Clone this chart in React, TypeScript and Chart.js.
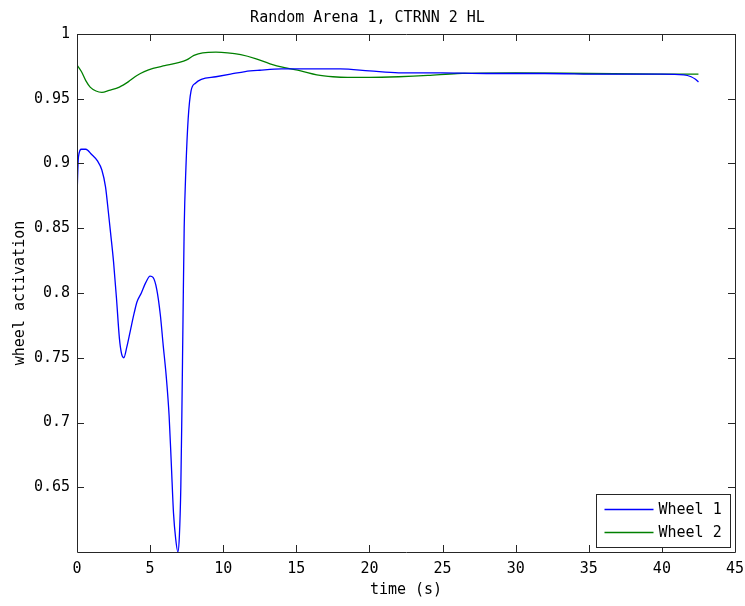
import React, { useEffect, useRef } from "react";
import { Chart, registerables } from "chart.js";

Chart.register(...registerables);

const TITLE = "Random Arena 1, CTRNN 2 HL";
const X_LABEL = "time (s)";
const Y_LABEL = "wheel activation";
const SERIES_NAMES = ["Wheel 1", "Wheel 2"];
const SERIES_COLORS = ["#0000ff", "#008000"];

const X_TICKS = [0, 5, 10, 15, 20, 25, 30, 35, 40, 45];
const Y_TICKS = [0.65, 0.7, 0.75, 0.8, 0.85, 0.9, 0.95, 1];

const WHEEL1_T = [
  0, 0.1, 0.3, 0.6, 1.0, 1.4, 1.7, 1.95, 2.15, 2.3, 2.5, 2.7, 2.9, 3.05, 3.2,
  3.4, 3.65, 3.9, 4.1, 4.4, 4.7, 5.0, 5.2, 5.45, 5.7, 5.9, 6.1, 6.3, 6.45, 6.6,
  6.75, 6.9, 7.0, 7.1, 7.17, 7.25, 7.33, 7.45, 7.6, 7.8, 8.1, 8.5, 9.5, 10.5,
  11.5, 12.5, 14, 16, 18, 20, 22, 25, 28, 32, 36, 40, 41.5, 42, 42.3, 42.5,
];
const WHEEL1_V = [
  0.875, 0.905, 0.911, 0.911, 0.907, 0.902, 0.895, 0.882, 0.862, 0.846, 0.824,
  0.796, 0.765, 0.753, 0.75, 0.758, 0.771, 0.784, 0.793, 0.8, 0.808, 0.813,
  0.812, 0.803, 0.783, 0.759, 0.736, 0.705, 0.668, 0.63, 0.61, 0.6, 0.612,
  0.65, 0.705, 0.78, 0.85, 0.897, 0.934, 0.956, 0.962, 0.965, 0.967, 0.969,
  0.971, 0.972, 0.973, 0.973, 0.973, 0.9715, 0.97, 0.97, 0.9695, 0.9695,
  0.969, 0.969, 0.9685, 0.967, 0.965, 0.963,
];

const WHEEL2_T = [
  0, 0.3, 0.6, 0.9, 1.3, 1.7, 2.2, 2.9, 3.5, 4.1, 4.6, 5.2, 6.0, 7.0, 7.5, 8.0,
  8.6, 9.5, 10.3, 11.2, 12.2, 13.2, 14.2, 15.3, 16.4, 17.5, 18.5, 20, 22, 24,
  26, 30, 35, 40, 42.5,
];
const WHEEL2_V = [
  0.976, 0.971, 0.964, 0.959, 0.956, 0.955, 0.9565, 0.959, 0.963, 0.968, 0.971,
  0.9735, 0.9755, 0.978, 0.98, 0.9835, 0.9855, 0.986, 0.9855, 0.984, 0.981,
  0.977, 0.974, 0.9715, 0.9685, 0.967, 0.9665, 0.9665, 0.967, 0.968, 0.9695,
  0.97, 0.9695, 0.969, 0.969,
];

const FONT = "'DejaVu Sans Mono', 'Liberation Mono', monospace";
const AXIS_COLOR = "#262626";

const framePlugin = {
  id: "matlabFrame",
  afterDraw(chart: any) {
    const { ctx, chartArea } = chart;
    const { left, right, top, bottom } = chartArea;
    const xs = chart.scales.x;
    const ys = chart.scales.y;
    ctx.save();
    ctx.strokeStyle = AXIS_COLOR;
    ctx.lineWidth = 1;
    ctx.beginPath();
    ctx.rect(Math.round(left) + 0.5, Math.round(top) + 0.5, Math.round(right - left), Math.round(bottom - top));
    ctx.stroke();
    // inward ticks
    ctx.beginPath();
    X_TICKS.forEach((v) => {
      const px = Math.round(xs.getPixelForValue(v)) + 0.5;
      ctx.moveTo(px, bottom);
      ctx.lineTo(px, bottom - 7);
      ctx.moveTo(px, top);
      ctx.lineTo(px, top + 7);
    });
    Y_TICKS.forEach((v) => {
      const py = Math.round(ys.getPixelForValue(v)) + 0.5;
      ctx.moveTo(left, py);
      ctx.lineTo(left + 7, py);
      ctx.moveTo(right, py);
      ctx.lineTo(right - 7, py);
    });
    ctx.stroke();

    // legend
    const bx2 = Math.round(right) - 5 + 0.5;
    const by2 = Math.round(bottom) - 5 + 0.5;
    const bw = 134;
    const bh = 53;
    const bx1 = bx2 - bw;
    const by1 = by2 - bh;
    ctx.fillStyle = "#ffffff";
    ctx.fillRect(bx1, by1, bw, bh);
    ctx.strokeStyle = AXIS_COLOR;
    ctx.strokeRect(bx1, by1, bw, bh);
    ctx.font = `15px ${FONT}`;
    ctx.textBaseline = "middle";
    ctx.textAlign = "left";
    SERIES_NAMES.forEach((name, i) => {
      const y = Math.round(by1 + 14 + i * 23) + 0.5;
      ctx.strokeStyle = SERIES_COLORS[i];
      ctx.lineWidth = 1.3;
      ctx.beginPath();
      ctx.moveTo(bx1 + 8, y);
      ctx.lineTo(bx1 + 57, y);
      ctx.stroke();
      ctx.fillStyle = "#000";
      ctx.fillText(name, bx1 + 62, y + 0.5);
    });
    ctx.restore();
  },
};

function toPoints(t: number[], v: number[]) {
  return t.map((x, i) => ({ x, y: v[i] }));
}

export default function App() {
  const ref = useRef<HTMLCanvasElement | null>(null);
  useEffect(() => {
    if (!ref.current) return;
    const chart = new Chart(ref.current, {
      type: "line",
      data: {
        datasets: [
          {
            label: SERIES_NAMES[0],
            data: toPoints(WHEEL1_T, WHEEL1_V),
            borderColor: SERIES_COLORS[0],
            borderWidth: 1.3,
            pointRadius: 0,
            cubicInterpolationMode: "monotone",
            fill: false,
          },
          {
            label: SERIES_NAMES[1],
            data: toPoints(WHEEL2_T, WHEEL2_V),
            borderColor: SERIES_COLORS[1],
            borderWidth: 1.3,
            pointRadius: 0,
            cubicInterpolationMode: "monotone",
            fill: false,
          },
        ],
      },
      options: {
        responsive: false,
        animation: false,
        layout: { padding: { left: 0, right: 10, top: 0, bottom: 0 } },
        plugins: {
          legend: { display: false },
          tooltip: { enabled: false },
          title: {
            display: true,
            text: TITLE,
            color: "#000",
            font: { family: FONT, size: 15, weight: "normal" },
            padding: { top: 9, bottom: 7 },
          },
        },
        scales: {
          x: {
            type: "linear",
            min: 0,
            max: 45,
            grid: { display: false, drawTicks: false },
            border: { display: false },
            afterBuildTicks: (scale: any) => {
              scale.ticks = X_TICKS.map((v) => ({ value: v }));
            },
            afterFit: (scale: any) => {
              scale.height = 54;
              scale.paddingLeft = 0;
              scale.paddingRight = 0;
            },
            ticks: {
              color: "#000",
              padding: 8,
              maxRotation: 0,
              autoSkip: false,
              font: { family: FONT, size: 15 },
              callback: (v: any) => String(Number(Number(v).toFixed(2))),
            },
            title: {
              display: true,
              text: X_LABEL,
              color: "#000",
              font: { family: FONT, size: 15 },
              padding: { top: 0, bottom: 7 },
            },
          },
          y: {
            type: "linear",
            min: 0.6,
            max: 1,
            grid: { display: false, drawTicks: false },
            border: { display: false },
            afterBuildTicks: (scale: any) => {
              scale.ticks = Y_TICKS.map((v) => ({ value: v }));
            },
            afterFit: (scale: any) => {
              scale.width = 77;
              scale.paddingTop = 0;
              scale.paddingBottom = 0;
            },
            ticks: {
              color: "#000",
              padding: 7,
              autoSkip: false,
              font: { family: FONT, size: 15 },
              callback: (v: any) => String(Number(Number(v).toFixed(2))),
            },
            title: {
              display: true,
              text: Y_LABEL,
              color: "#000",
              font: { family: FONT, size: 15 },
              padding: { top: 11, bottom: 0 },
            },
          },
        },
      },
      plugins: [framePlugin],
    } as any);
    return () => chart.destroy();
  }, []);
  return (
    <div style={{ position: "fixed", left: 0, top: 0, width: 745, height: 606, background: "#fff" }}>
      <canvas ref={ref} width={745} height={606} style={{ width: 745, height: 606, display: "block" }} />
    </div>
  );
}
